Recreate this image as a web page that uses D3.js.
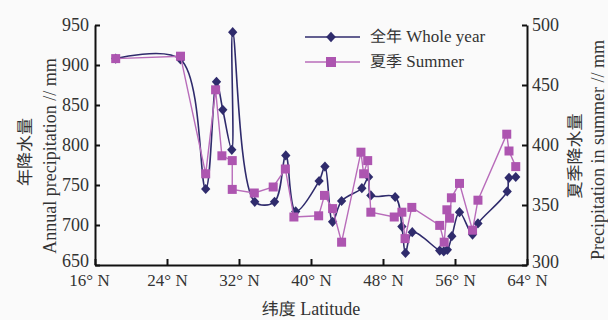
<!DOCTYPE html>
<html>
<head>
<meta charset="utf-8">
<script src="https://cdn.jsdelivr.net/npm/d3@7.9.0/dist/d3.min.js"></script>
<style>
  html, body { margin: 0; padding: 0; background: #fafafa; }
  svg text { font-family: "Liberation Serif", "DejaVu Serif", serif; fill: #333; }
  .cjk { font-family: "Noto Sans CJK SC", "Noto Sans CJK JP", sans-serif; text-rendering: geometricPrecision; -webkit-font-smoothing: antialiased; }
</style>
</head>
<body>
<svg id="chart" width="608" height="320"></svg>
<script>
// latitude (°N) and annual precipitation (mm)
const latWhole = [18.3, 25.5, 28.3, 29.5, 30.2, 31.2, 31.3, 33.75, 35.95, 37.2, 38.3, 40.9, 41.55, 42.4, 43.4,
  45.65, 46.4, 46.65, 49.35, 50.1, 50.5, 51.25, 54.3, 54.75, 55.15, 55.65, 56.5, 57.95, 58.55, 61.8, 62.0, 62.75];
const whole = [908, 907, 745, 879, 844, 794, 941, 729, 729, 787, 717, 755, 773, 704, 730,
  746, 760, 737, 735, 698, 665, 691, 668, 667, 669, 686, 716, 688, 702, 742, 759, 760];

// latitude (°N) and summer precipitation (mm)
const latSummer = [18.3, 25.5, 28.3, 29.4, 30.1, 31.25, 31.25, 33.7, 35.8, 37.15, 38.1, 40.85, 41.5, 42.4, 43.4,
  45.55, 45.85, 46.3, 46.65, 49.25, 50.1, 50.45, 51.2, 54.3, 54.8, 55.1, 55.4, 55.6, 56.5, 57.95, 58.55, 61.75, 62.0, 62.75];
const summer = [472, 474, 376, 446, 391, 387, 363, 360, 365, 380, 340, 341, 358, 347, 319,
  394, 376, 387, 344, 340, 344, 322, 348, 333, 319, 346, 339, 356, 368, 329, 354, 409, 395, 382];

const xTicks = [16, 24, 32, 40, 48, 56, 64];
const leftTicks = [650, 700, 750, 800, 850, 900, 950];
const rightTicks = [300, 350, 400, 450, 500];

const wholeColor = '#2f2b6c';
const summerColor = '#ad55b0';
const summerLine = '#b86cba';

const svg = d3.select('#chart');
const mLeft = 95, mRight = 527, mTop = 25, mBottom = 265;

const x = d3.scaleLinear().domain([16, 64]).range([mLeft, mRight]);
const yL = d3.scaleLinear().domain([650, 950]).range([mBottom, mTop]);
const yR = d3.scaleLinear().domain([300, 500]).range([mBottom, mTop]);

// axes
const gx = svg.append('g').attr('transform', `translate(0,${mBottom})`)
  .call(d3.axisBottom(x).tickValues(xTicks).tickSizeInner(-6).tickSizeOuter(0).tickPadding(11)
    .tickFormat(d => d + '° N'));
const gl = svg.append('g').attr('transform', `translate(${mLeft},0)`)
  .call(d3.axisLeft(yL).tickValues(leftTicks).tickSizeInner(-5).tickSizeOuter(0).tickPadding(6));
const gr = svg.append('g').attr('transform', `translate(${mRight},0)`)
  .call(d3.axisRight(yR).tickValues(rightTicks).tickSizeInner(-5).tickSizeOuter(0).tickPadding(5));

[gx, gl, gr].forEach(g => {
  g.select('.domain').attr('stroke', '#111').attr('stroke-width', 2);
  g.selectAll('.tick line').attr('stroke', '#111').attr('stroke-width', 2);
  g.selectAll('.tick text').attr('font-size', 18).attr('fill', '#333')
    .style('font-family', '"Liberation Serif", serif');
});
gx.selectAll('.tick text').attr('font-size', 17).attr('dy', '0.6em')
  .attr('dx', d => d === 16 ? -6 : 0);
// lowest labels sit a little higher, clear of the latitude labels
gl.selectAll('.tick text').attr('dy', d => d === 650 ? '0.1em' : '0.32em');
gr.selectAll('.tick text').attr('dy', d => d === 300 ? '0.15em' : '0.32em');

// axis titles
svg.append('text').attr('class', 'cjk')
  .attr('transform', 'translate(31,152) rotate(-90)')
  .attr('text-anchor', 'middle').attr('font-size', 17).text('年降水量');
svg.append('text')
  .attr('transform', 'translate(56,156) rotate(-90)')
  .attr('text-anchor', 'middle').attr('font-size', 18).text('Annual precipitation // mm');
svg.append('text').attr('class', 'cjk')
  .attr('transform', 'translate(581,156) rotate(-90)')
  .attr('text-anchor', 'middle').attr('font-size', 17).text('夏季降水量');
svg.append('text')
  .attr('transform', 'translate(604,150) rotate(-90)')
  .attr('text-anchor', 'middle').attr('font-size', 18).text('Precipitation in summer // mm');
const xt = svg.append('text').attr('x', 311).attr('y', 315).attr('text-anchor', 'middle').attr('font-size', 18);
xt.append('tspan').attr('class', 'cjk').attr('font-size', 17).text('纬度');
xt.append('tspan').text(' Latitude');

// whole year series
const wholeData = latWhole.map((d, i) => [d, whole[i]]);
svg.append('path')
  .datum(wholeData)
  .attr('fill', 'none')
  .attr('stroke', wholeColor)
  .attr('stroke-width', 1.6)
  .attr('d', d3.line().x(d => x(d[0])).y(d => yL(d[1])).curve(d3.curveCatmullRom.alpha(0.5)));

const diamond = d3.symbol().type(d3.symbolDiamond2).size(55);
svg.append('g').selectAll('path')
  .data(wholeData)
  .join('path')
  .attr('d', diamond)
  .attr('transform', d => `translate(${x(d[0])},${yL(d[1])}) scale(1,1.1)`)
  .attr('fill', wholeColor);

// summer series
const summerData = latSummer.map((d, i) => [d, summer[i]]);
svg.append('path')
  .datum(summerData)
  .attr('fill', 'none')
  .attr('stroke', summerLine)
  .attr('stroke-width', 1.4)
  .attr('d', d3.line().x(d => x(d[0])).y(d => yR(d[1])));

svg.append('g').selectAll('rect')
  .data(summerData)
  .join('rect')
  .attr('x', d => x(d[0]) - 4.5)
  .attr('y', d => yR(d[1]) - 4.5)
  .attr('width', 9)
  .attr('height', 9)
  .attr('fill', summerColor);

// legend
const legend = svg.append('g');
const items = [
  { zh: '全年', en: ' Whole year', color: wholeColor, type: 'diamond' },
  { zh: '夏季', en: ' Summer', color: summerColor, type: 'square' }
];
items.forEach((it, i) => {
  const ly = 37 + i * 25;
  legend.append('line').attr('x1', 305).attr('x2', 360).attr('y1', ly).attr('y2', ly)
    .attr('stroke', i === 0 ? it.color : summerLine).attr('stroke-width', 1.6);
  if (it.type === 'diamond') {
    legend.append('path').attr('d', d3.symbol().type(d3.symbolDiamond2).size(60))
      .attr('transform', `translate(331,${ly}) scale(1,1.1)`).attr('fill', it.color);
  } else {
    legend.append('rect').attr('x', 326).attr('y', ly - 5).attr('width', 10).attr('height', 10)
      .attr('fill', it.color);
  }
  const t = legend.append('text').attr('x', 370).attr('y', ly + 5).attr('font-size', 17);
  t.append('tspan').attr('class', 'cjk').attr('font-size', 16).text(it.zh);
  t.append('tspan').text(it.en);
});
</script>
</body>
</html>
